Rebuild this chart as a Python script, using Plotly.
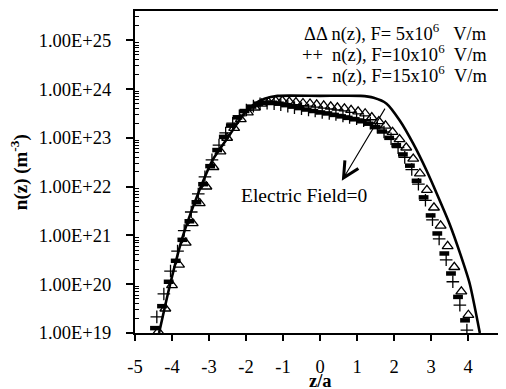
import plotly.graph_objects as go

# ---------------- data ----------------
# Electric field = 0 (solid line): z/a and log10 n(z)
z_f0 = [-4.35, -4.05, -3.70, -3.22, -2.90, -2.45, -2.10, -1.80, -1.50, -1.15,
        0.00, 1.10, 1.45, 1.80, 2.16, 2.52, 2.88, 3.16, 3.50, 3.80, 4.05, 4.32]
logn_f0 = [19.0, 20.0, 21.0, 22.0, 22.55, 23.05, 23.45, 23.68, 23.80, 23.86,
           23.86, 23.86, 23.82, 23.70, 23.35, 22.88, 22.33, 21.85, 21.24, 20.60, 20.0, 19.0]

# F = 5x10^6 V/m (open triangles)
z_f5 = [-4.37, -4.18, -4.00, -3.81, -3.63, -3.44, -3.25, -3.07, -2.88, -2.69,
        -2.51, -2.32, -2.14, -1.95, -1.76, -1.58, -1.39, -1.20, -1.02, -0.83,
        -0.65, -0.46, -0.27, -0.09, 0.10, 0.29, 0.47, 0.66, 0.84, 1.03,
        1.22, 1.40, 1.59, 1.77, 1.96, 2.15, 2.33, 2.52, 2.70, 2.89,
        3.08, 3.26, 3.45, 3.63, 3.82, 4.01]
logn_f5 = [19.03, 19.50, 19.98, 20.40, 20.85, 21.25, 21.66, 22.00, 22.40, 22.72,
           23.00, 23.20, 23.38, 23.52, 23.62, 23.70, 23.73, 23.76, 23.76, 23.74,
           23.73, 23.71, 23.70, 23.68, 23.66, 23.64, 23.62, 23.60, 23.57, 23.54,
           23.50, 23.42, 23.34, 23.25, 23.12, 22.97, 22.80, 22.57, 22.27, 21.93,
           21.57, 21.20, 20.78, 20.35, 19.85, 19.37]

# F = 10x10^6 V/m (plus signs)
z_f10 = [-4.41, -4.22, -4.04, -3.85, -3.67, -3.48, -3.29, -3.11, -2.92, -2.73,
         -2.55, -2.36, -2.18, -1.99, -1.80, -1.62, -1.43, -1.24, -1.06, -0.87,
         -0.69, -0.50, -0.31, -0.13, 0.06, 0.25, 0.43, 0.62, 0.80, 0.99,
         1.18, 1.36, 1.55, 1.73, 1.92, 2.11, 2.29, 2.48, 2.66, 2.85,
         3.04, 3.22, 3.41, 3.59, 3.78, 3.97]
logn_f10 = [19.33, 19.80, 20.27, 20.68, 21.10, 21.48, 21.85, 22.20, 22.55, 22.85,
            23.10, 23.30, 23.45, 23.57, 23.65, 23.70, 23.71, 23.70, 23.68, 23.65,
            23.62, 23.60, 23.57, 23.55, 23.52, 23.50, 23.48, 23.45, 23.42, 23.39,
            23.35, 23.30, 23.22, 23.12, 22.98, 22.80, 22.60, 22.35, 22.05, 21.72,
            21.32, 20.93, 20.50, 20.05, 19.57, 19.06]

# F = 15x10^6 V/m (black bars)
z_f15 = [-4.46, -4.27, -4.09, -3.90, -3.72, -3.53, -3.34, -3.16, -2.97, -2.78,
         -2.60, -2.41, -2.23, -2.04, -1.85, -1.67, -1.48, -1.29, -1.11, -0.92,
         -0.74, -0.55, -0.36, -0.18, 0.01, 0.20, 0.38, 0.57, 0.75, 0.94,
         1.13, 1.31, 1.50, 1.68, 1.87, 2.06, 2.24, 2.43, 2.61, 2.80,
         2.99, 3.17, 3.36, 3.54, 3.73, 3.92]
logn_f15 = [19.10, 19.55, 20.05, 20.48, 20.91, 21.29, 21.68, 22.05, 22.42, 22.75,
            23.02, 23.25, 23.42, 23.55, 23.64, 23.70, 23.72, 23.72, 23.70, 23.67,
            23.64, 23.61, 23.58, 23.55, 23.52, 23.50, 23.47, 23.44, 23.41, 23.38,
            23.34, 23.29, 23.22, 23.13, 23.00, 22.85, 22.66, 22.43, 22.12, 21.78,
            21.41, 21.04, 20.63, 20.22, 19.74, 19.26]

x_tickvals = [-5, -4, -3, -2, -1, 0, 1, 2, 3, 4, 5]
x_ticktext = ["-5", "-4", "-3", "-2", "-1", "0", "1", "2", "3", "4", "5"]
y_decades = [19, 20, 21, 22, 23, 24, 25]
y_ticktext = ["1.00E+19", "1.00E+20", "1.00E+21", "1.00E+22",
              "1.00E+23", "1.00E+24", "1.00E+25"]

legend_lines = [
    "ΔΔ n(z), F=\u00a05x10<sup>6</sup>\u00a0\u00a0\u00a0V/m",
    "++\u00a0\u00a0n(z), F=10x10<sup>6</sup>\u00a0\u00a0V/m",
    "-\u00a0-\u00a0\u00a0n(z), F=15x10<sup>6</sup>\u00a0\u00a0V/m",
]

# ---------------- figure ----------------
FONT = "Liberation Serif"


def to_val(arr):
    return [10.0 ** float(v) for v in arr]


fig = go.Figure()
fig.add_trace(go.Scatter(x=z_f15, y=to_val(logn_f15), mode="markers",
                         marker=dict(symbol="line-ew", size=7,
                                     line=dict(width=4.5, color="black"),
                                     color="black"),
                         showlegend=False))
fig.add_trace(go.Scatter(x=z_f10, y=to_val(logn_f10), mode="markers",
                         marker=dict(symbol="cross-thin", size=9,
                                     line=dict(width=1.3, color="black"),
                                     color="black"),
                         showlegend=False))
fig.add_trace(go.Scatter(x=z_f5, y=to_val(logn_f5), mode="markers",
                         marker=dict(symbol="triangle-up-open", size=9.5,
                                     line=dict(width=1.3, color="black"),
                                     color="black"),
                         showlegend=False))
fig.add_trace(go.Scatter(x=z_f0, y=to_val(logn_f0), mode="lines",
                         line=dict(color="black", width=2.6, shape="spline",
                                   smoothing=0.6),
                         showlegend=False))

minor_vals = [float(m) * 10.0 ** d for d in range(19, 26) for m in range(2, 10)]

# the page body adds an 8 px offset; margins compensate for it
fig.update_layout(
    width=506, height=389,
    margin=dict(l=127, r=9, t=1, b=64),
    paper_bgcolor="white", plot_bgcolor="white",
    font=dict(family=FONT, size=18, color="black"),
    xaxis=dict(range=[-5, 5], tickmode="array", tickvals=x_tickvals,
               ticktext=x_ticktext, ticks="outside", ticklen=6, tickwidth=1.5,
               tickcolor="black", showline=True, linewidth=2, linecolor="black",
               mirror=True, showgrid=False, zeroline=False,
               ticklabelstandoff=10,
               tickfont=dict(family=FONT, size=18.5, color="black")),
    yaxis=dict(type="log", range=[19, 25.6], tickmode="array",
               tickvals=[10.0 ** d for d in y_decades], ticktext=y_ticktext,
               ticks="outside", ticklen=7, tickwidth=1.5, tickcolor="black",
               showline=True, linewidth=2, linecolor="black", mirror=True,
               showgrid=False, zeroline=False, ticklabelstandoff=11,
               tickfont=dict(family=FONT, size=18.5, color="black"),
               minor=dict(tickmode="array", tickvals=minor_vals, ticks="inside",
                          ticklen=4, tickwidth=1, tickcolor="black",
                          showgrid=False)),
)

ann = []
# axis titles
ann.append(dict(text="<b>n(z) (m<sup>-3</sup>)</b>", xref="paper", yref="paper",
                x=-0.313, y=0.5, xanchor="center", yanchor="middle",
                textangle=-90, showarrow=False,
                font=dict(family=FONT, size=19, color="black")))
ann.append(dict(text="<b>z/a</b>", xref="paper", yref="paper",
                x=0.5, y=-0.15, xanchor="center", yanchor="middle",
                showarrow=False, font=dict(family=FONT, size=18.5, color="black")))
# legend text lines
legend_y = [0.932, 0.867, 0.802]
for t, yy in zip(legend_lines, legend_y):
    ann.append(dict(text=t, xref="paper", yref="paper", x=0.956, y=yy,
                    xanchor="right", yanchor="middle", showarrow=False,
                    font=dict(family=FONT, size=18.5, color="black")))
# "Electric Field=0" label and arrow
ann.append(dict(text="Electric Field=0", xref="paper", yref="paper",
                x=0.457, y=0.426, xanchor="center", yanchor="middle",
                showarrow=False, font=dict(family=FONT, size=19.5, color="black")))
ann.append(dict(text="", x=0.59, y=22.12, xref="x", yref="y",
                ax=1.78, ay=23.63, axref="x", ayref="y",
                showarrow=True, arrowhead=5, arrowsize=2.8, arrowwidth=1.1,
                arrowcolor="black"))
fig.update_layout(annotations=ann)

fig.write_html("out.html")
